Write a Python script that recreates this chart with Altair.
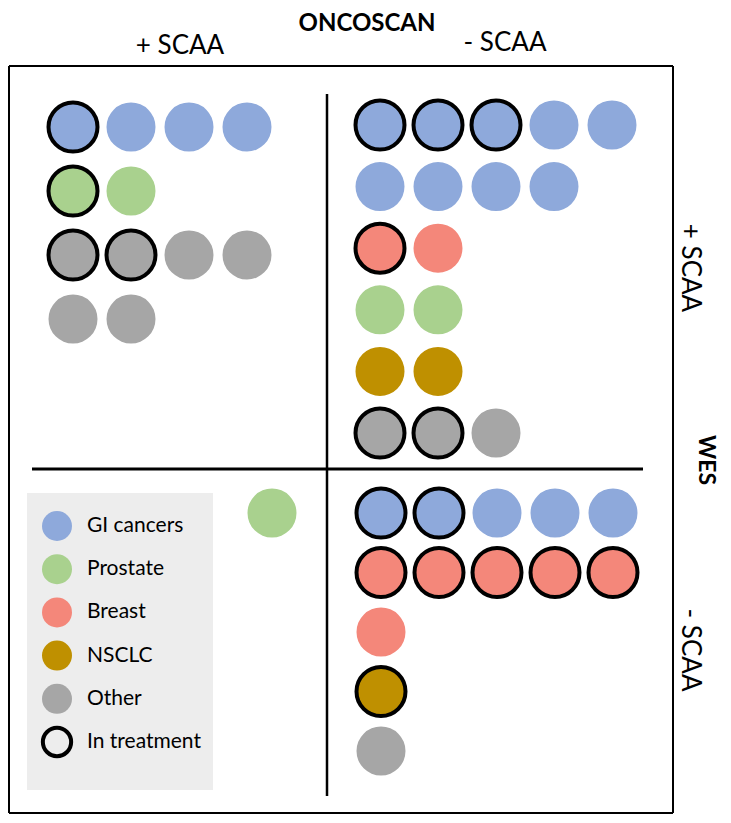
import math
import altair as alt
import pandas as pd

# ---------------- data ----------------
quadrant = ["TL", "TL", "TL", "TR", "TR", "TR", "TR", "TR", "BL", "BR", "BR", "BR", "BR"]
category = ["GI cancers", "Prostate", "Other",
            "GI cancers", "Breast", "Prostate", "NSCLC", "Other",
            "Prostate",
            "GI cancers", "Breast", "NSCLC", "Other"]
n_patients = [4, 2, 6, 9, 2, 2, 2, 3, 1, 5, 6, 1, 1]
n_in_treatment = [1, 1, 2, 3, 1, 0, 0, 2, 0, 2, 5, 1, 0]

categories = ["GI cancers", "Prostate", "Breast", "NSCLC", "Other"]
cat_colors = ["#8EA9DB", "#A9D18E", "#F4877A", "#BF9000", "#A6A6A6"]
legend_labels = ["GI cancers", "Prostate", "Breast", "NSCLC", "Other", "In treatment"]

title_top = "ONCOSCAN"
col_labels = ["+ SCAA", "- SCAA"]
title_right = "WES"
row_labels = ["+ SCAA", "- SCAA"]

# ---------------- layout (page pixels) ----------------
W, H = 715, 806
OX, OY = 8, 8
ORIGIN = {"TL": (73, 127), "TR": (380, 125), "BL": (272, 513), "BR": (381, 513)}
WRAP = {"TL": 4, "TR": 5, "BL": 1, "BR": 5}
DX = 58
DY = {"TL": 64, "TR": 61.6, "BL": 60, "BR": 59.5}
FONT = "Lato"

xs = alt.Scale(domain=[OX, OX + W], range=[0, W])
ys = alt.Scale(domain=[OY, OY + H], range=[0, H])
X = lambda f: alt.X(f, type="quantitative", scale=xs, axis=None)
Y = lambda f: alt.Y(f, type="quantitative", scale=ys, axis=None)

recs = []
row_counter = {q: 0 for q in ORIGIN}
for q, c, n, t in zip(quadrant, category, n_patients, n_in_treatment):
    wrap = WRAP[q]
    for i in range(n):
        recs.append(dict(category=c,
                         px=ORIGIN[q][0] + DX * (i % wrap),
                         py=ORIGIN[q][1] + DY[q] * (row_counter[q] + i // wrap),
                         treat=i < t))
    row_counter[q] += math.ceil(n / wrap)
df = pd.DataFrame(recs)

fill = alt.Fill("category:N", scale=alt.Scale(domain=categories, range=cat_colors), legend=None)

# frame and dividers
bottom = OY + H - 1
lines = pd.DataFrame([
    dict(x=9, x2=673, y=66, y2=66, w=2),
    dict(x=9, x2=673, y=bottom, y2=bottom, w=2),
    dict(x=9, x2=9, y=66, y2=bottom, w=2),
    dict(x=673, x2=673, y=66, y2=bottom, w=2),
    dict(x=327, x2=327, y=94, y2=796, w=2.5),
    dict(x=32, x2=643, y=469, y2=469, w=3),
])
rules = alt.Chart(lines).mark_rule(color="black").encode(
    x=X("x"), x2="x2", y=Y("y"), y2="y2",
    strokeWidth=alt.StrokeWidth("w:Q", scale=None))

# legend box
legbox = alt.Chart(pd.DataFrame([dict(x=27, x2=213, y=493, y2=790)])).mark_rect(
    color="#EDEDED").encode(x=X("x"), x2="x2", y=Y("y"), y2="y2")

leg = pd.DataFrame(dict(label=legend_labels,
                        px=[57] * 6,
                        tx=[87] * 6,
                        py=[526 + 43.2 * i for i in range(6)]))
leg_circ = alt.Chart(leg.iloc[:5]).mark_circle(size=900, opacity=1).encode(
    x=X("px"), y=Y("py"),
    fill=alt.Fill("label:N", scale=alt.Scale(domain=categories, range=cat_colors), legend=None))
leg_treat = alt.Chart(leg.iloc[5:]).mark_point(shape="circle", size=800, filled=False,
                                              stroke="black", strokeWidth=4, opacity=1).encode(
    x=X("px"), y=Y("py"))
leg_text = alt.Chart(leg).mark_text(align="left", baseline="middle", font=FONT,
                                    fontSize=21, color="black").encode(
    x=X("tx"), y=Y("py"), text="label:N")

# patient circles
plain = alt.Chart(df[~df.treat]).mark_circle(size=2400, opacity=1).encode(
    x=X("px"), y=Y("py"), fill=fill)
treated = alt.Chart(df[df.treat]).mark_circle(size=2400, opacity=1, stroke="black",
                                              strokeWidth=4, strokeOpacity=1).encode(
    x=X("px"), y=Y("py"), fill=fill)

# titles
top_bold = alt.Chart(pd.DataFrame(dict(t=[title_top], px=[367], py=[31]))).mark_text(
    font=FONT, fontSize=24, fontWeight="bold", baseline="alphabetic", color="black").encode(
    x=X("px"), y=Y("py"), text="t:N")
top_cols = alt.Chart(pd.DataFrame(dict(t=col_labels, px=[180, 505], py=[46, 43]))).mark_text(
    font=FONT, fontSize=26, baseline="middle", color="black").encode(
    x=X("px"), y=Y("py"), text="t:N")
right_rows = alt.Chart(pd.DataFrame(dict(t=row_labels, px=[690, 690], py=[268, 650]))).mark_text(
    font=FONT, fontSize=26, baseline="middle", angle=90, color="black").encode(
    x=X("px"), y=Y("py"), text="t:N")
right_bold = alt.Chart(pd.DataFrame(dict(t=[title_right], px=[706], py=[460]))).mark_text(
    font=FONT, fontSize=23, fontWeight="bold", baseline="middle", angle=90, color="black").encode(
    x=X("px"), y=Y("py"), text="t:N")

chart = alt.layer(
    legbox, rules, leg_circ, leg_treat, leg_text, plain, treated,
    top_bold, top_cols, right_rows, right_bold
).properties(width=W, height=H, padding=0, autosize="none").configure_view(stroke=None)

chart.save("out.html", embed_options={"renderer": "svg", "actions": False})
